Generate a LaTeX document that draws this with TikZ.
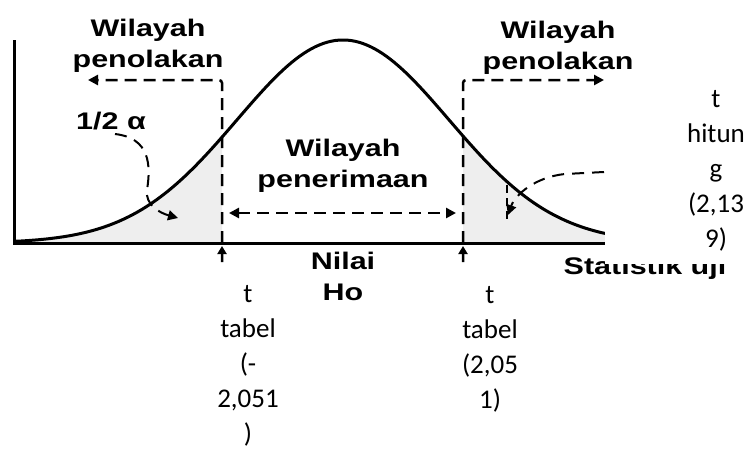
\documentclass[tikz,border=0pt]{standalone}
\usepackage{fontspec}
\usetikzlibrary{arrows.meta}
\newfontfamily\diagfont[FakeStretch=1.27]{Liberation Sans Bold}
\newfontfamily\calfont{Carlito}
\tikzset{
  dtext/.style={font=\diagfont\fontsize{24}{31}\selectfont, inner sep=0pt, anchor=base, align=center},
  ctext/.style={font=\calfont\fontsize{27}{35}\selectfont, inner sep=0pt, anchor=base, align=center},
  axisline/.style={line width=3pt, line join=miter},
  curveline/.style={line width=3pt},
  dashline/.style={line width=2.5pt, dash pattern=on 12pt off 7pt},
  thindash/.style={line width=2pt, dash pattern=on 12pt off 8pt},
  tip/.style={-{Triangle[length=10pt,width=10pt]}},
  bothtips/.style={{Triangle[length=10pt,width=10pt]}-{Triangle[length=10pt,width=10pt]}},
  shadearea/.style={fill=gray!13},
}
\begin{document}
\begin{tikzpicture}[x=1pt,y=-1pt]
\useasboundingbox (0,0) rectangle (749,450);
\def\bell#1{243-203*exp(-0.5*(((#1)-343)/106)^2)}
% shaded tails
\fill[shadearea] (14,243) -- plot[domain=14:222,samples=60] (\x,{\bell{\x}}) -- (222,243) -- cycle;
\fill[shadearea] (463,243) -- plot[domain=463:605,samples=60] (\x,{\bell{\x}}) -- (605,243) -- cycle;
% axes
\coordinate (ytop) at (14,40);
\coordinate (origin) at (14,243);
\coordinate (xend) at (605,243);
\draw[axisline] (ytop) -- (origin) -- (xend);
% bell curve
\draw[curveline] plot[domain=14:605,samples=150] (\x,{\bell{\x}});
% critical value lines
\coordinate (lbot) at (222,262);
\coordinate (lcorner) at (222,80);
\coordinate (ltip) at (88,80);
\coordinate (rbot) at (463,262);
\coordinate (rcorner) at (463,80);
\coordinate (rtip) at (604,80);
\draw[dashline, tip, rounded corners=3pt] (lbot) -- (lcorner) -- (ltip);
\draw[dashline, tip, rounded corners=3pt] (rbot) -- (rcorner) -- (rtip);
% small up arrows at the critical values
\coordinate (lup) at (222,246);
\coordinate (rup) at (463,246);
\draw[line width=2.5pt, -{Triangle[length=8pt,width=9pt]}] (lbot) -- (lup);
\draw[line width=2.5pt, -{Triangle[length=8pt,width=9pt]}] (rbot) -- (rup);
% acceptance arrow
\coordinate (accl) at (229,213);
\coordinate (accr) at (456,213);
\draw[dashline, bothtips] (accl) -- (accr);
% labels (base anchor = baseline of the last line)
\node[dtext] (wl) at (148,67) {Wilayah\\penolakan};
\node[dtext] (wr) at (558,69) {Wilayah\\penolakan};
\node[dtext] (wm) at (343,187) {Wilayah\\penerimaan};
\node[dtext] (ho) at (343,300) {Nilai\\Ho};
\node[dtext] (alpha) at (111,129) {1/2 α};
% alpha arrow
\coordinate (as) at (115,134);
\coordinate (at) at (178,218);
\draw[thindash, tip] (as) .. controls (150,138) and (151,165) .. (147,190) .. controls (145,205) and (160,213) .. (at);
% right arrow to t hitung
\coordinate (hs) at (604,172);
\coordinate (ht) at (508,215);
\draw[thindash, tip] (hs) -- (565,174) .. controls (535,177) and (515,195) .. (ht);
\draw[line width=1.5pt, dash pattern=on 8pt off 5pt] (507,185) -- (507,222);
% Statistik uji (partly covered by the text box)
\node[dtext] (stat) at (645,274) {Statistik uji};
\fill[white] (605,86) rectangle (749,264);
% Calibri labels
\node[ctext] (tl) at (248,442) {t\\tabel\\(-\\2,051\\)};
\node[ctext] (tr) at (490,408) {t\\tabel\\(2,05\\1)};
\node[ctext] (th) at (716,247) {t\\hitun\\g\\(2,13\\9)};
\end{tikzpicture}
\end{document}
